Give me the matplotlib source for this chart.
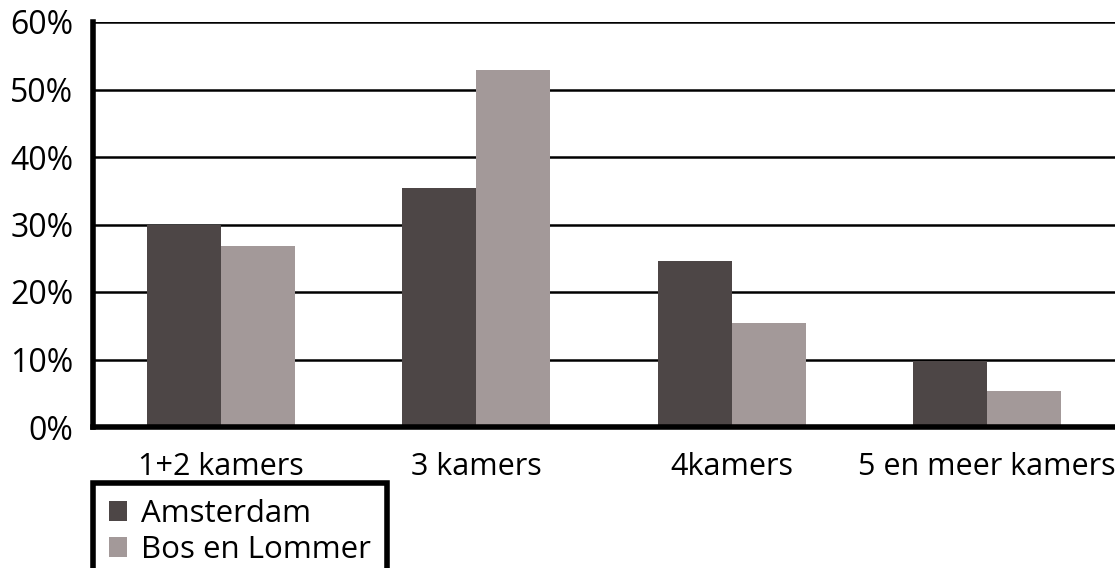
import matplotlib
matplotlib.use("Agg")
import matplotlib.pyplot as plt
from matplotlib.patches import Patch
import numpy as np

categories = ["1+2 kamers", "3 kamers", "4kamers", "5 en meer kamers"]
amsterdam = [30.0, 35.4, 24.6, 9.8]
bos_en_lommer = [26.8, 52.9, 15.4, 5.3]
series_names = ["Amsterdam", "Bos en Lommer"]
yticks = [0, 10, 20, 30, 40, 50, 60]
ytick_labels = ["0%", "10%", "20%", "30%", "40%", "50%", "60%"]

c_ams = "#4d4646"
c_bos = "#a39999"

plt.rcParams['font.family'] = ['Open Sans', 'DejaVu Sans']

fig = plt.figure(figsize=(11.15, 5.68), dpi=100)
ax = fig.add_axes([93/1115, 1 - 427/568, 1 - 93/1115, (427 - 22)/568])

x = np.arange(len(categories))
w = 0.29
ax.bar(x - w/2, amsterdam, width=w, color=c_ams, zorder=3)
ax.bar(x + w/2, bos_en_lommer, width=w, color=c_bos, zorder=3)

ax.set_xlim(-0.5, 3.5)
ax.set_ylim(0, 60)
ax.set_yticks(yticks)
ax.set_yticklabels(ytick_labels)
ax.set_xticks(x)
ax.set_xticklabels(categories)
ax.tick_params(axis='both', length=0, colors='black')
ax.tick_params(axis='y', pad=14, labelsize=23)
ax.tick_params(axis='x', pad=18, labelsize=22)

for yv in yticks[1:]:
    ax.axhline(yv, color='black', lw=1.8, zorder=1)

for s in ['top', 'right']:
    ax.spines[s].set_visible(False)
ax.spines['left'].set_linewidth(4)
ax.spines['bottom'].set_linewidth(4)
ax.spines['left'].set_zorder(4)
ax.spines['bottom'].set_zorder(4)

handles = [Patch(facecolor=c_ams, edgecolor='none'), Patch(facecolor=c_bos, edgecolor='none')]
leg = fig.legend(handles, series_names, loc='upper left',
                 bbox_to_anchor=(93/1115, 1 - 483/568), bbox_transform=fig.transFigure,
                 fontsize=22.5, frameon=True, fancybox=False, framealpha=1,
                 borderpad=0.5, handlelength=0.6, handleheight=0.6, handletextpad=0.45,
                 labelspacing=0.2, borderaxespad=0)
leg.get_frame().set_edgecolor('black')
leg.get_frame().set_linewidth(4)

fig.savefig("out.png", dpi=100)
